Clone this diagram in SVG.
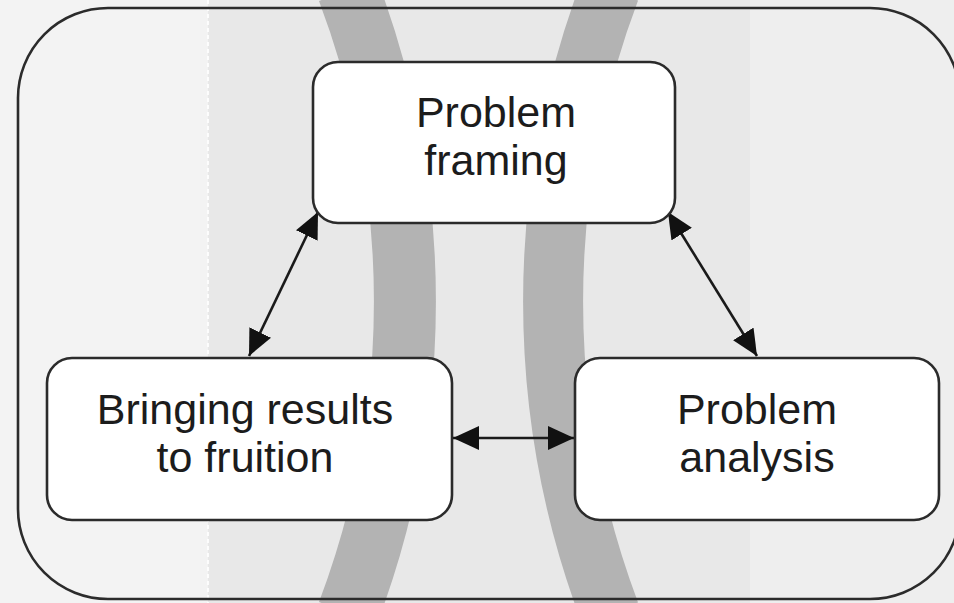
<svg xmlns="http://www.w3.org/2000/svg" width="954" height="603" viewBox="0 0 954 603">
  <style>
    .band { fill: none; stroke: #b3b3b3; }
    .box { fill: #ffffff; stroke: #2b2b2b; stroke-width: 2.6; }
    .label { font-family: "Liberation Sans", Arial, Helvetica, sans-serif; font-size: 43px; fill: #1c1c1c; text-anchor: middle; }
    .link { fill: none; stroke: #1a1a1a; stroke-width: 2.6; marker-start: url(#head); marker-end: url(#head); }
  </style>
  <defs>
    <marker id="head" markerUnits="userSpaceOnUse" markerWidth="28" markerHeight="26" refX="26" refY="12" orient="auto-start-reverse" viewBox="0 0 28 26">
      <path d="M0,0 L26,12 L0,24 Z" fill="#111111"/>
    </marker>
  </defs>

  <!-- background columns -->
  <rect x="0" y="0" width="954" height="603" fill="#f3f3f3"/>
  <rect x="208" y="0" width="542" height="603" fill="#e8e8e8"/>
  <rect x="750" y="0" width="204" height="603" fill="#eeeeee"/>
  <line x1="208" y1="0" x2="208" y2="603" stroke="#ffffff" stroke-width="2" stroke-dasharray="4 3" opacity="0.9"/>

  <!-- curved gray bands -->
  <path class="band" stroke-width="62" d="M348,-10 A881,881 0 0 1 348,613"/>
  <path class="band" stroke-width="60" d="M610,-10 A881,881 0 0 0 610,613"/>

  <!-- enclosing frame -->
  <rect x="18" y="8" width="942" height="591" rx="90" ry="90" fill="none" stroke="#2b2b2b" stroke-width="2.6"/>

  <!-- connectors -->
  <g id="connectors">
    <line class="link" x1="318" y1="212" x2="249" y2="356"/>
    <line class="link" x1="668" y1="212" x2="757" y2="356"/>
    <line class="link" x1="453" y1="438" x2="574" y2="438"/>
  </g>

  <!-- nodes -->
  <g id="problem-framing">
    <rect class="box" x="313" y="62" width="362" height="161" rx="25" ry="25"/>
    <text class="label" x="496" y="127">Problem</text>
    <text class="label" x="496" y="175">framing</text>
  </g>
  <g id="bringing-results">
    <rect class="box" x="47" y="358" width="405" height="162" rx="25" ry="25"/>
    <text class="label" x="245" y="424">Bringing results</text>
    <text class="label" x="245" y="472">to fruition</text>
  </g>
  <g id="problem-analysis">
    <rect class="box" x="575" y="358" width="364" height="162" rx="25" ry="25"/>
    <text class="label" x="757" y="424">Problem</text>
    <text class="label" x="757" y="472">analysis</text>
  </g>
</svg>
